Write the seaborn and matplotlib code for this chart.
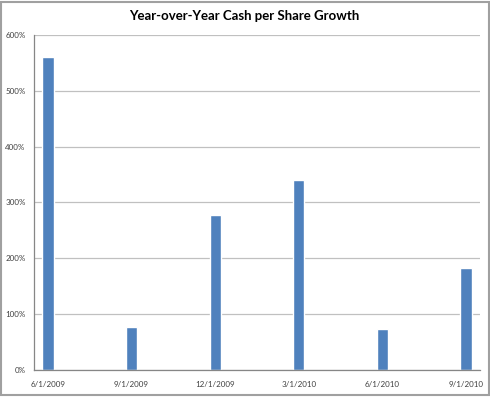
import pandas as pd
import seaborn as sns
from matplotlib import pyplot as plt
from matplotlib.patches import Rectangle

# monthly date axis, bars only on quarter months
months = ["6/1/2009", "7/1/2009", "8/1/2009", "9/1/2009", "10/1/2009", "11/1/2009",
          "12/1/2009", "1/1/2010", "2/1/2010", "3/1/2010", "4/1/2010", "5/1/2010",
          "6/1/2010", "7/1/2010", "8/1/2010", "9/1/2010"]
dates = ["6/1/2009", "9/1/2009", "12/1/2009", "3/1/2010", "6/1/2010", "9/1/2010"]
growth = [561, 77, 277, 340, 74, 182]  # percent
yticks = [0, 100, 200, 300, 400, 500, 600]

df = pd.DataFrame({"date": dates, "growth": growth})

sns.set_style("white")
plt.rcParams["font.family"] = ["Lato", "DejaVu Sans"]

fig = plt.figure(figsize=(4.9, 3.97), dpi=100)
ax = fig.add_axes([0.0694, 0.0673, 0.9102, 0.8453])

sns.barplot(data=df, x="date", y="growth", order=months, color="#4F81BD",
            saturation=1, width=0.4, ax=ax)

ax.set_ylim(0, 600)
ax.set_xlim(-0.5, len(months) - 0.5)
ax.set_yticks(yticks)
ax.set_yticklabels([f"{v}%" for v in yticks])
ax.yaxis.grid(True, color="#C0C0C0", linewidth=0.9)
ax.set_axisbelow(True)

label_pos = [months.index(d) for d in dates]
ax.set_xticks(label_pos)
ax.set_xticklabels(dates)
ax.set_xticks([p - 0.5 for p in label_pos], minor=True)
ax.tick_params(axis="x", which="major", length=0, pad=8, labelsize=5.8, labelcolor="#404040")
ax.tick_params(axis="x", which="minor", length=3, color="#868686", width=0.8)
ax.tick_params(axis="y", length=3, color="#868686", width=0.8, pad=3,
               labelsize=5.8, labelcolor="#404040")

ax.set_xlabel("")
ax.set_ylabel("")
for side in ["top", "right"]:
    ax.spines[side].set_visible(False)
for side in ["left", "bottom"]:
    ax.spines[side].set_color("#868686")
    ax.spines[side].set_linewidth(0.9)

fig.text(0.4985, 0.96, "Year-over-Year Cash per Share Growth", ha="center", va="center",
         fontsize=9.5, fontweight="bold", color="black")

fig.patches.append(Rectangle((0.002, 0.004), 0.995, 0.992, transform=fig.transFigure,
                             fill=False, edgecolor="#A0A0A0", linewidth=1.5, figure=fig))

fig.savefig("out.png", dpi=100)
